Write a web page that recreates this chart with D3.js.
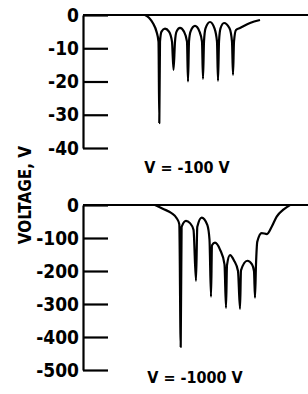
<!DOCTYPE html>
<html>
<head>
<meta charset="utf-8">
<script src="https://cdn.jsdelivr.net/npm/d3@7"></script>
<style>
  body { margin: 0; background: #fff; }
  text { font-family: "DejaVu Sans", sans-serif; font-stretch: condensed; font-weight: bold; fill: #000; }
</style>
</head>
<body>
<div id="svgcontainer"></div>
<script>
// tick labels
const topTicks = [0, -10, -20, -30, -40];
const bottomTicks = [0, -100, -200, -300, -400, -500];
const captions = ["V = -100 V", "V = -1000 V"];
const yTitle = "VOLTAGE, V";

// traces: [time (arb. units), voltage]
const topTrace = [
  [62, 0], [66, -0.8], [70, -2.5], [73.5, -5], [75.5, -8], [76.3, -32.5], [77, -8], [78.5, -5],
  [82, -4.1], [86, -5], [89, -8], [90.5, -16.5], [92, -8], [93.5, -5],
  [97, -3.9], [101, -5], [104, -8], [105, -20], [106, -8], [107.5, -5],
  [112, -3.3], [116.5, -5], [119, -8], [120, -19.2], [121, -8], [122.5, -4],
  [127, -2.1], [131.5, -4], [134, -8], [135, -19.8], [136, -8], [137.5, -4],
  [141, -2.4], [146.5, -4], [149, -8], [150, -18], [151, -8], [153, -4.5],
  [157, -3.9], [167, -2.4], [177, -1.5]
];
const bottomTrace = [
  [72, 0], [80.3, -12], [88.7, -25], [93.7, -40], [96.3, -58], [97.7, -430], [98.6, -66],
  [103, -48], [107, -55], [110.5, -75], [113, -230], [114.3, -66],
  [118.7, -38], [124.3, -60], [126.5, -105], [128, -278], [129, -122],
  [132, -114], [137, -135], [141.5, -180], [143, -312], [144, -182],
  [147, -152], [151, -168], [155, -200], [157, -315], [158, -198],
  [164.3, -169], [169, -180], [171, -200], [172, -281], [173, -180],
  [174.3, -111], [178.7, -85], [184, -88], [188.7, -66], [193.7, -35], [200, -15], [205, -4], [207, 0]
];

var svg = d3.select("#svgcontainer")
    .append("svg")
    .attr("width", 308)
    .attr("height", 394)

const x = d3.scaleLinear().domain([0, 225]).range([83, 308]);

function panel(trace, ticks, yRange, caption, capPos) {
  let y = d3.scaleLinear().domain([0, d3.min(ticks)]).range(yRange);
  let g = svg.append('g')

  let ax = g.append('g')
      .attr('transform', 'translate(83,0)')
      .call(d3.axisLeft(y).tickValues(ticks).tickSize(-25).tickSizeOuter(0).tickPadding(4).tickFormat(d => String(d)))
  ax.selectAll('path, line').attr('stroke', '#000').attr('stroke-width', 2.2)
  ax.selectAll('text').style('font-size', '19px').attr('fill', '#000')

  // zero line across the top
  g.append('line')
      .attr('x1', x(0)).attr('x2', x(225))
      .attr('y1', y(0)).attr('y2', y(0))
      .attr('stroke', '#000').attr('stroke-width', 2)

  let line = d3.line().x(d => x(d[0])).y(d => y(d[1])).curve(d3.curveMonotoneX)
  g.append('path')
      .attr('d', line(trace))
      .attr('fill', 'none')
      .attr('stroke', '#000')
      .attr('stroke-width', 2.2)
      .attr('stroke-linejoin', 'round')

  g.append('text')
      .attr('x', capPos[0]).attr('y', capPos[1])
      .attr('text-anchor', 'middle')
      .style('font-size', '16px')
      .text(caption)
}

panel(topTrace, topTicks, [15, 148], captions[0], [187, 173]);
panel(bottomTrace, bottomTicks, [205, 370], captions[1], [195, 383]);

svg.append('text')
    .attr('transform', 'translate(31,195) rotate(-90)')
    .attr('text-anchor', 'middle')
    .style('font-size', '17px')
    .text(yTitle)
</script>
</body>
</html>
